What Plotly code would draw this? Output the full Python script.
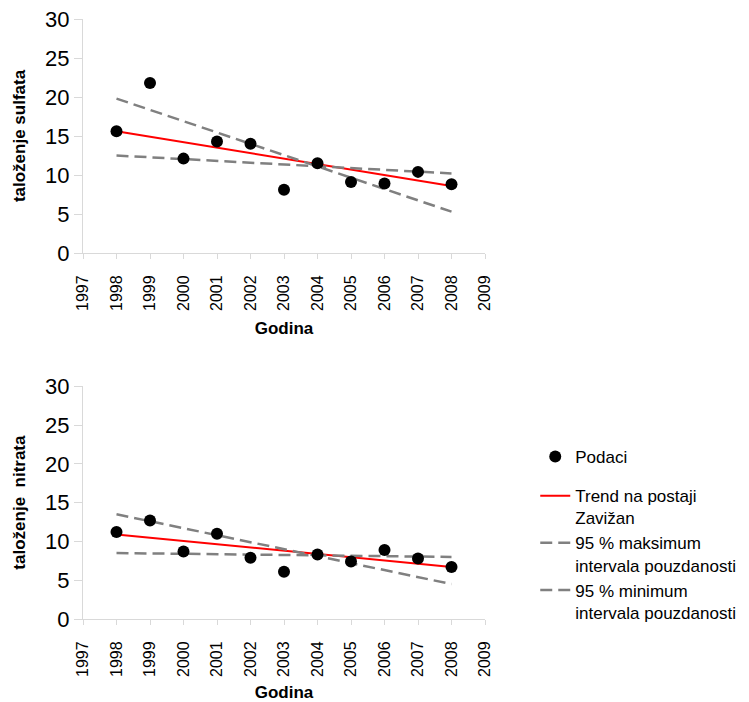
import plotly.graph_objects as go

years = [1998, 1999, 2000, 2001, 2002, 2003, 2004, 2005, 2006, 2007, 2008]
sulfat = [15.6, 21.8, 12.1, 14.3, 14.0, 8.1, 11.5, 9.1, 8.9, 10.4, 8.8]
nitrat = [11.2, 12.7, 8.7, 11.0, 7.9, 6.1, 8.3, 7.4, 8.9, 7.8, 6.7]

line_years = [1998, 2008]
sulfat_trend = [15.6, 8.6]
sulfat_max = [19.8, 5.3]
sulfat_min = [12.5, 10.2]
nitrat_trend = [10.9, 6.7]
nitrat_max = [13.5, 4.5]
nitrat_min = [8.5, 8.0]

x_ticks = list(range(1997, 2010))
y_ticks = [0, 5, 10, 15, 20, 25, 30]

FONT = "Liberation Sans, Arial, sans-serif"
GREY = "#808080"
DASH = "12px,6px"

fig = go.Figure()

panels = [
    ("x", "y", sulfat, sulfat_trend, sulfat_max, sulfat_min),
    ("x2", "y2", nitrat, nitrat_trend, nitrat_max, nitrat_min),
]
for xa, ya, data, trend, mx, mn in panels:
    fig.add_trace(go.Scatter(x=line_years, y=trend, mode="lines", xaxis=xa, yaxis=ya,
                             line=dict(color="#ff0000", width=2),
                             name="Trend na postaji<br>Zavižan", showlegend=False,
                             legendgroup="g2", legendrank=2))
    fig.add_trace(go.Scatter(x=line_years, y=mx, mode="lines", xaxis=xa, yaxis=ya,
                             line=dict(color=GREY, width=2.5, dash=DASH),
                             name="95 % maksimum<br>intervala pouzdanosti", showlegend=False,
                             legendgroup="g2", legendrank=3))
    fig.add_trace(go.Scatter(x=line_years, y=mn, mode="lines", xaxis=xa, yaxis=ya,
                             line=dict(color=GREY, width=2.5, dash=DASH),
                             name="95 % minimum<br>intervala pouzdanosti", showlegend=False,
                             legendgroup="g2", legendrank=4))
    fig.add_trace(go.Scatter(x=years, y=data, mode="markers", xaxis=xa, yaxis=ya,
                             marker=dict(color="black", size=12),
                             name="Podaci", showlegend=False,
                             legendgroup="g1", legendrank=1))

for tr in fig.data[4:]:
    tr.showlegend = True

axis_common = dict(
    range=[1997, 2009], tickmode="array", tickvals=x_ticks, ticktext=[str(v) for v in x_ticks],
    tickangle=-90, showgrid=False, zeroline=False, showline=True, linecolor="#d9d9d9",
    linewidth=1, ticks="outside", ticklen=5, tickcolor="#d9d9d9", automargin=False,
    ticklabelstandoff=10,
    tickfont=dict(family=FONT, size=16, color="black"),
)
yaxis_common = dict(
    range=[0, 30], tickmode="array", tickvals=y_ticks, showgrid=False, zeroline=False,
    showline=True, linecolor="#d9d9d9", linewidth=1, ticks="outside", ticklen=8,
    tickcolor="#d9d9d9", automargin=False, tickfont=dict(family=FONT, size=22, color="black"),
)

fig.update_layout(
    width=749, height=702,
    margin=dict(l=83, r=264, t=19, b=83, autoexpand=False),
    paper_bgcolor="white", plot_bgcolor="white",
    font=dict(family=FONT, color="black"),
    xaxis=dict(axis_common, domain=[0, 1], anchor="y",
               title=dict(text="<b>Godina</b>", font=dict(size=17), standoff=12)),
    yaxis=dict(yaxis_common, domain=[0.61, 1], anchor="x",
               title=dict(text="<b>taloženje sulfata</b>", font=dict(size=17), standoff=15)),
    xaxis2=dict(axis_common, domain=[0, 1], anchor="y2",
                title=dict(text="<b>Godina</b>", font=dict(size=17), standoff=12)),
    yaxis2=dict(yaxis_common, domain=[0, 0.388], anchor="x2",
                title=dict(text="<b>taloženje  nitrata</b>", font=dict(size=17), standoff=15)),
    legend=dict(x=1.125, y=0.30, xanchor="left", yanchor="top", valign="top",
                font=dict(family=FONT, size=17, color="black"),
                tracegroupgap=14, bgcolor="rgba(0,0,0,0)"),
)

fig.write_html("out.html", config={"displayModeBar": False},
               post_script="document.body.style.margin='0';")
